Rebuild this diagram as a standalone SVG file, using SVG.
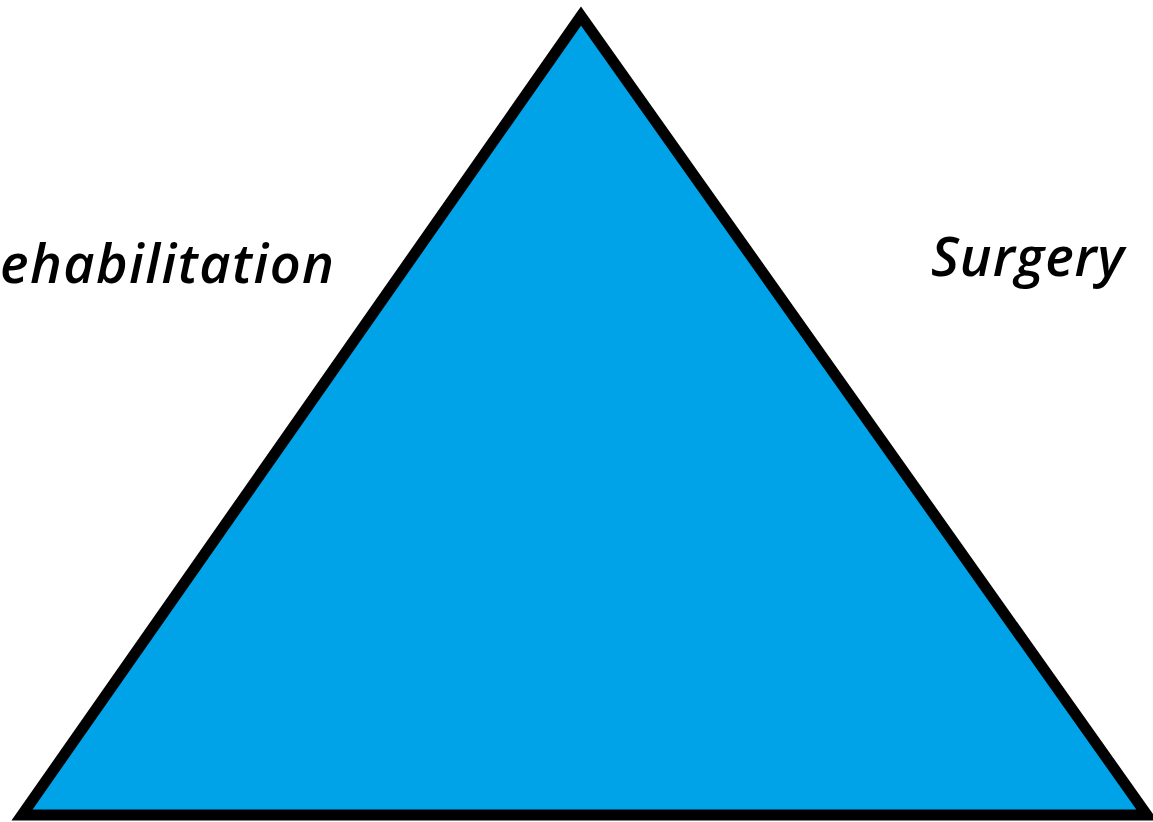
<svg xmlns="http://www.w3.org/2000/svg" width="1153" height="822" viewBox="0 0 1153 822">
<style>
.lbl{font-family:"Open Sans","DejaVu Sans",sans-serif;font-weight:600;font-style:italic;font-size:54px;fill:#000}
</style>
<rect width="1153" height="822" fill="#fff"/>
<g id="triangle">
<polygon points="581,16 22,815 1147,815" fill="#00A2E8" stroke="#000" stroke-width="11" stroke-linejoin="miter"/>
</g>
<g id="label-rehabilitation">
<text class="lbl" x="0" y="283" textLength="334" lengthAdjust="spacing">ehabilitation</text>
</g>
<g id="label-surgery">
<text class="lbl" x="931" y="276" textLength="193" lengthAdjust="spacing">Surgery</text>
</g>
<g id="connectors"></g>
</svg>
